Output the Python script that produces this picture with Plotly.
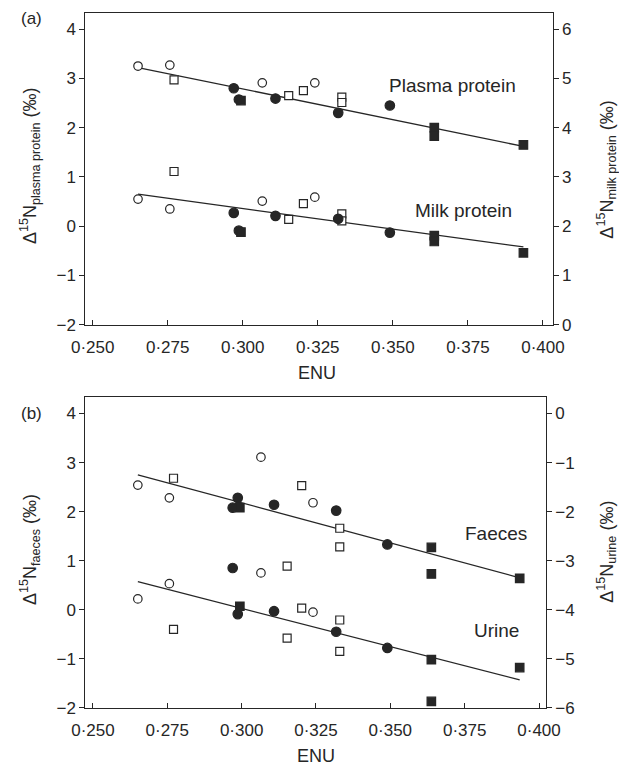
import plotly.graph_objects as go

# ---------------- data ----------------
# ENU values per animal group (marker type)
enu_open_circle = [0.2651, 0.2757, 0.3065, 0.3240]
enu_open_square = [0.2771, 0.3153, 0.3202, 0.3330, 0.3330]
enu_filled_circle = [0.2970, 0.2987, 0.3109, 0.3318, 0.3490]
enu_filled_square = [0.2994, 0.3638, 0.3638, 0.3935]

# Panel (a) – plasma protein (left axis)
plasma_open_circle = [3.25, 3.27, 2.91, 2.91]
plasma_open_square = [2.97, 2.65, 2.75, 2.62, 2.51]
plasma_filled_circle = [2.80, 2.57, 2.59, 2.30, 2.45]
plasma_filled_square = [2.55, 2.00, 1.83, 1.65]
# Panel (a) – milk protein (plotted on left-axis scale; right axis = left + 2)
milk_open_circle = [0.55, 0.35, 0.51, 0.59]
milk_open_square = [1.11, 0.14, 0.46, 0.25, 0.11]
milk_filled_circle = [0.27, -0.09, 0.21, 0.15, -0.13]
milk_filled_square = [-0.12, -0.19, -0.31, -0.54]

# Panel (b) – faeces (left axis)
faeces_open_circle = [2.54, 2.28, 3.11, 2.18]
faeces_open_square = [2.68, 0.89, 2.53, 1.66, 1.28]
faeces_filled_circle = [2.08, 2.28, 2.14, 2.02, 1.33]
faeces_filled_square = [2.08, 1.27, 0.73, 0.64]
# Panel (b) – urine (plotted on left-axis scale; right axis = left - 4)
urine_open_circle = [0.22, 0.53, 0.75, -0.05]
urine_open_square = [-0.40, -0.58, 0.03, -0.21, -0.85]
urine_filled_circle = [0.85, -0.09, -0.03, -0.45, -0.78]
urine_filled_square = [0.07, -1.02, -1.87, -1.18]

# regression lines (end points)
line_x = [0.2651, 0.3935]
plasma_line = [3.22, 1.62]
milk_line = [0.65, -0.42]
faeces_line = [2.75, 0.65]
urine_line = [0.57, -1.43]

# ticks
x_ticks = [0.250, 0.275, 0.300, 0.325, 0.350, 0.375, 0.400]
x_ticktext = ["0·250", "0·275", "0·300", "0·325", "0·350", "0·375", "0·400"]
y_left_ticks = [-2, -1, 0, 1, 2, 3, 4]
y_left_text = ["−2", "−1", "0", "1", "2", "3", "4"]
y_right_a_ticks = [0, 1, 2, 3, 4, 5, 6]
y_right_a_text = ["0", "1", "2", "3", "4", "5", "6"]
y_right_b_ticks = [-6, -5, -4, -3, -2, -1, 0]
y_right_b_text = ["−6", "−5", "−4", "−3", "−2", "−1", "0"]

# ---------------- styling ----------------
INK = "#262626"
FONT = "Liberation Sans, Arial, sans-serif"
W, H = 619, 778

def px_x(p):
    return p / W

def px_y(p):
    return 1 - p / H

fig = go.Figure()

def add_panel(xa, ya, series, line_pairs):
    for ys_line in line_pairs:
        fig.add_trace(go.Scatter(x=line_x, y=ys_line, mode="lines",
                                 line=dict(color=INK, width=1.3),
                                 xaxis=xa, yaxis=ya, showlegend=False, hoverinfo="skip"))
    styles = [
        (enu_open_circle, "circle", "white", 8.5),
        (enu_open_square, "square", "white", 8),
        (enu_filled_circle, "circle", INK, 9.5),
        (enu_filled_square, "square", INK, 8.5),
    ]
    for ys in series:
        for (xs, sym, fill, size), yv in zip(styles, ys):
            fig.add_trace(go.Scatter(x=xs, y=yv, mode="markers",
                                     marker=dict(symbol=sym, size=size, color=fill,
                                                 line=dict(color=INK, width=1.2)),
                                     xaxis=xa, yaxis=ya, showlegend=False))

add_panel("x", "y",
          [[plasma_open_circle, plasma_open_square, plasma_filled_circle, plasma_filled_square],
           [milk_open_circle, milk_open_square, milk_filled_circle, milk_filled_square]],
          [plasma_line, milk_line])
add_panel("x2", "y3",
          [[faeces_open_circle, faeces_open_square, faeces_filled_circle, faeces_filled_square],
           [urine_open_circle, urine_open_square, urine_filled_circle, urine_filled_square]],
          [faeces_line, urine_line])

axis_common = dict(showgrid=False, zeroline=False, showline=True, linecolor=INK,
                   linewidth=1.2, tickcolor=INK, ticklen=5, tickwidth=1.1,
                   tickfont=dict(family=FONT, size=17, color=INK), tickmode="array")

a_top, a_bot = 13, 329
b_top, b_bot = 402, 717
a_left, a_right = 75, 565
b_left, b_right = 75, 558

fig.update_layout(
    width=W, height=H,
    margin=dict(l=0, r=0, t=0, b=0),
    paper_bgcolor="white", plot_bgcolor="white",
    xaxis=dict(domain=[px_x(a_left), px_x(a_right)], anchor="y", range=[0.2476, 0.4032],
               tickvals=x_ticks, ticktext=x_ticktext, ticks="inside", mirror=True,
               ticklabelstandoff=7, **axis_common),
    yaxis=dict(domain=[px_y(a_bot), px_y(a_top)], anchor="x", range=[-2, 4.33],
               tickvals=y_left_ticks, ticktext=y_left_text, ticks="outside", **axis_common),
    yaxis2=dict(overlaying="y", anchor="x", side="right", range=[0, 6.33],
                tickvals=y_right_a_ticks, ticktext=y_right_a_text, ticks="outside", **axis_common),
    xaxis2=dict(domain=[px_x(b_left), px_x(b_right)], anchor="y3", range=[0.2475, 0.4023],
                tickvals=x_ticks, ticktext=x_ticktext, ticks="inside", mirror=True,
                ticklabelstandoff=7, **axis_common),
    yaxis3=dict(domain=[px_y(b_bot), px_y(b_top)], anchor="x2", range=[-2, 4.34],
                tickvals=y_left_ticks, ticktext=y_left_text, ticks="outside", **axis_common),
    yaxis4=dict(overlaying="y3", anchor="x2", side="right", range=[-6, 0.34],
                tickvals=y_right_b_ticks, ticktext=y_right_b_text, ticks="outside", **axis_common),
)

# invisible points so that the right-hand axes are drawn
fig.add_trace(go.Scatter(x=[0.3], y=[3], xaxis="x", yaxis="y2", mode="markers",
                         marker=dict(opacity=0), showlegend=False, hoverinfo="skip"))
fig.add_trace(go.Scatter(x=[0.3], y=[-3], xaxis="x2", yaxis="y4", mode="markers",
                         marker=dict(opacity=0), showlegend=False, hoverinfo="skip"))

def note(text, x, y, xref="paper", yref="paper", size=18, angle=0):
    return dict(text=text, x=x, y=y, xref=xref, yref=yref, xanchor="center", yanchor="middle",
                showarrow=False, textangle=angle,
                font=dict(family=FONT, size=size, color=INK))

ann = [
    note("(a)", px_x(18), px_y(19), size=17),
    note("(b)", px_x(18), px_y(419), size=17),
    note("Plasma protein", 0.3698, 2.85, "x", "y", size=19),
    note("Milk protein", 0.3735, 0.31, "x", "y", size=19),
    note("Faeces", 0.3855, 1.55, "x2", "y3", size=19),
    note("Urine", 0.3858, -0.43, "x2", "y3", size=19),
    note("ENU", px_x(318), px_y(378)),
    note("ENU", px_x(317), px_y(766)),
    note("Δ<sup>15</sup>N<sub>plasma protein</sub> (‰)", px_x(17), px_y(168), angle=-90),
    note("Δ<sup>15</sup>N<sub>milk protein</sub> (‰)", px_x(622), px_y(172), angle=-90),
    note("Δ<sup>15</sup>N<sub>faeces</sub> (‰)", px_x(17), px_y(557), angle=-90),
    note("Δ<sup>15</sup>N<sub>urine</sub> (‰)", px_x(622), px_y(559), angle=-90),
]
fig.update_layout(annotations=ann)

fig.write_html("out.html")
